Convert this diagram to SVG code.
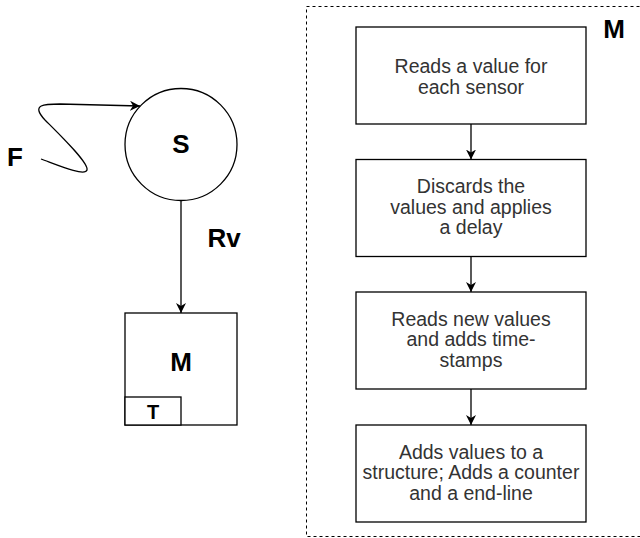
<svg xmlns="http://www.w3.org/2000/svg" width="640" height="538" viewBox="0 0 640 538">
<defs>
<style>
.box{fill:#fff;stroke:#000;stroke-width:1.3}
.t{font-family:"Liberation Sans",Arial,sans-serif;font-size:19.5px;fill:#333;text-anchor:middle}
.b{font-family:"Liberation Sans",Arial,sans-serif;font-size:26px;font-weight:bold;fill:#000;text-anchor:middle}
.c{fill:none;stroke:#000;stroke-width:1.3}
</style>
<marker id="ah" viewBox="0 0 10 10" refX="10" refY="5" markerWidth="10" markerHeight="10" markerUnits="userSpaceOnUse" orient="auto">
<path d="M0,0 L10,5 L0,10 L3,5 z" fill="#000"/>
</marker>
</defs>
<rect width="640" height="538" fill="#fff"/>
<g id="container">
<rect x="306.5" y="6.5" width="340" height="530" fill="none" stroke="#000" stroke-width="1" stroke-dasharray="3 3"/>
<text class="b" x="614" y="38">M</text>
</g>
<g id="S">
<circle cx="181" cy="144.5" r="56" fill="#fff" stroke="#000" stroke-width="1.3"/>
<text class="b" x="181" y="153">S</text>
</g>
<g id="F"><text class="b" x="15" y="166">F</text></g>
<g id="Rv"><text class="b" x="224" y="247">Rv</text></g>
<g id="Mbox">
<rect class="box" x="125" y="313" width="112" height="112"/>
<text class="b" x="181" y="371">M</text>
<rect class="box" x="125" y="397" width="56" height="28"/>
<text class="b" x="153" y="419" style="font-size:20px">T</text>
</g>
<g id="step1">
<rect class="box" x="356" y="27" width="230" height="97"/>
<text class="t" x="471" y="73">Reads a value for</text>
<text class="t" x="471" y="93.5">each sensor</text>
</g>
<g id="step2">
<rect class="box" x="356" y="159.5" width="230" height="97"/>
<text class="t" x="471" y="193">Discards the</text>
<text class="t" x="471" y="213.5">values and applies</text>
<text class="t" x="471" y="234">a delay</text>
</g>
<g id="step3">
<rect class="box" x="356" y="292" width="230" height="97"/>
<text class="t" x="471" y="325.5">Reads new values</text>
<text class="t" x="471" y="346">and adds time-</text>
<text class="t" x="471" y="366.5">stamps</text>
</g>
<g id="step4">
<rect class="box" x="356" y="425" width="230" height="97"/>
<text class="t" x="471" y="458.5">Adds values to a</text>
<text class="t" x="471" y="479">structure; Adds a counter</text>
<text class="t" x="471" y="499.5">and a end-line</text>
</g>
<g id="connectors">
<path class="c" d="M41 159 C55 164,85 177,87 170 C89 163,60 135,45 120 C30 104,45 104,60 104 L140 106" marker-end="url(#ah)"/>
<line class="c" x1="181" y1="200.5" x2="181" y2="313" marker-end="url(#ah)"/>
<line class="c" x1="471" y1="124" x2="471" y2="159.5" marker-end="url(#ah)"/>
<line class="c" x1="471" y1="256.5" x2="471" y2="292" marker-end="url(#ah)"/>
<line class="c" x1="471" y1="389" x2="471" y2="425" marker-end="url(#ah)"/>
</g>
</svg>
